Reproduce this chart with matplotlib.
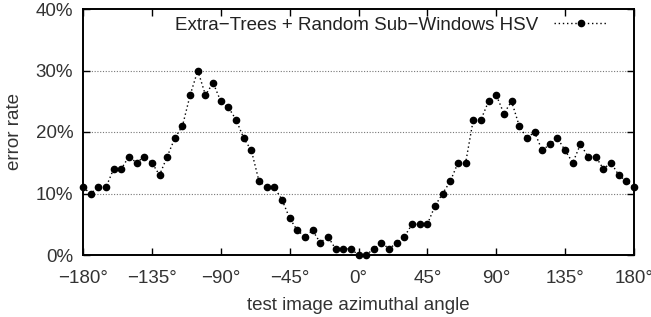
import matplotlib
matplotlib.use("Agg")
import matplotlib.pyplot as plt
from matplotlib.ticker import FuncFormatter

plt.rcParams['font.family'] = ['Liberation Sans', 'DejaVu Sans']

angles = list(range(-180, 181, 5))
error_pct = [11, 10, 11, 11, 14, 14, 16, 15, 16, 15, 13, 16, 19, 21, 26, 30, 26, 28, 25, 24,
             22, 19, 17, 12, 11, 11, 9, 6, 4, 3, 4, 2, 3, 1, 1, 1, 0, 0, 1, 2,
             1, 2, 3, 5, 5, 5, 8, 10, 12, 15, 15, 22, 22, 25, 26, 23, 25, 21, 19, 20,
             17, 18, 19, 17, 15, 18, 16, 16, 14, 15, 13, 12, 11]
xticks = [-180, -135, -90, -45, 0, 45, 90, 135, 180]
yticks = [0, 10, 20, 30, 40]
series_label = "Extra\u2212Trees + Random Sub\u2212Windows HSV"

FS = 13.5
TXT = '#333333'

fig = plt.figure(figsize=(6.51, 3.17), dpi=100)
ax = fig.add_axes([83/651, 1-255/317, (634-83)/651, (255-9)/317])

ax.plot(angles, error_pct, linestyle=(0, (1, 2)), color='black', linewidth=1.0,
        marker='o', markersize=4.5, markerfacecolor='black', markeredgecolor='black',
        label=series_label, clip_on=False, zorder=3)

ax.set_xlim(-180, 180)
ax.set_ylim(0, 40)
ax.set_xticks(xticks)
ax.set_yticks(yticks)
ax.xaxis.set_major_formatter(FuncFormatter(lambda v, p: ("\u2212%d\u00b0" % -v) if v < 0 else "%d\u00b0" % v))
ax.yaxis.set_major_formatter(FuncFormatter(lambda v, p: "%d%%" % v))

for yv in [10, 20, 30]:
    ax.axhline(yv, color='#777777', linestyle=(0, (1, 1.5)), linewidth=0.8, zorder=1)

ax.tick_params(direction='in', length=5, width=1, top=True, right=True,
               labelsize=FS, labelcolor=TXT)
ax.tick_params(axis='x', pad=10.5)
ax.tick_params(axis='y', pad=7)
for s in ax.spines.values():
    s.set_linewidth(1.4)

ax.set_xlabel("test image azimuthal angle", fontsize=FS, color=TXT, labelpad=7.5)
ax.set_ylabel("error rate", fontsize=FS, color=TXT, labelpad=9)

leg = ax.legend(loc='center right', bbox_to_anchor=((608-83)/551, (255-25)/246),
                frameon=False, markerfirst=False, fontsize=FS,
                handlelength=2.9, borderaxespad=0, borderpad=0, handletextpad=0.8)
for t in leg.get_texts():
    t.set_color('#222222')

fig.savefig("out.png", dpi=100)
